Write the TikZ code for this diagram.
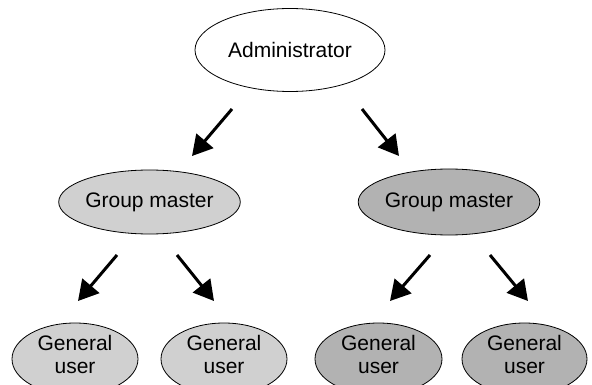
\documentclass[tikz,border=0pt]{standalone}
\usepackage{fontspec}
\setmainfont{Liberation Sans}
\usetikzlibrary{shapes.geometric,arrows.meta}
\definecolor{lightfill}{HTML}{D0D0D0}
\definecolor{darkfill}{HTML}{B2B2B2}
\tikzset{
  ell/.style={ellipse, draw=black, line width=0.8pt, inner sep=0pt, align=center,
    font=\fontsize{21}{23}\selectfont},
  user/.style={ell, minimum height=72pt, text depth=9pt},
  conn/.style={line width=3pt, -{Triangle[length=20pt,width=22pt]}},
}
\begin{document}
\begin{tikzpicture}[x=1pt,y=-1pt]
\clip (0,0) rectangle (592,385);
\fill[white] (0,0) rectangle (592,385);
\node[ell, fill=white, minimum width=190pt, minimum height=83pt] (admin) at (290,50) {Administrator};
\node[ell, fill=lightfill, minimum width=149pt, minimum height=64pt] (gm1) at (149.5,202) {Group master};
\node[ell, fill=darkfill, minimum width=142pt, minimum height=66pt] (gm2) at (449,202) {Group master};
\node[user, fill=lightfill, minimum width=126pt] (u1) at (75,359) {General\\user};
\node[user, fill=lightfill, minimum width=126pt] (u2) at (224,359) {General\\user};
\node[user, fill=darkfill, minimum width=127pt] (u3) at (378.5,359) {General\\user};
\node[user, fill=darkfill, minimum width=125pt] (u4) at (524.5,359) {General\\user};
\coordinate (a1s) at (232,109); \coordinate (a1e) at (192,156);
\coordinate (a2s) at (362,109); \coordinate (a2e) at (399,156);
\coordinate (b1s) at (117,255); \coordinate (b1e) at (78,301);
\coordinate (b2s) at (177,255); \coordinate (b2e) at (214,301);
\coordinate (b3s) at (430,255); \coordinate (b3e) at (390,301);
\coordinate (b4s) at (490,255); \coordinate (b4e) at (528,301);
\draw[conn] (a1s) -- (a1e);
\draw[conn] (a2s) -- (a2e);
\draw[conn] (b1s) -- (b1e);
\draw[conn] (b2s) -- (b2e);
\draw[conn] (b3s) -- (b3e);
\draw[conn] (b4s) -- (b4e);
\end{tikzpicture}
\end{document}
